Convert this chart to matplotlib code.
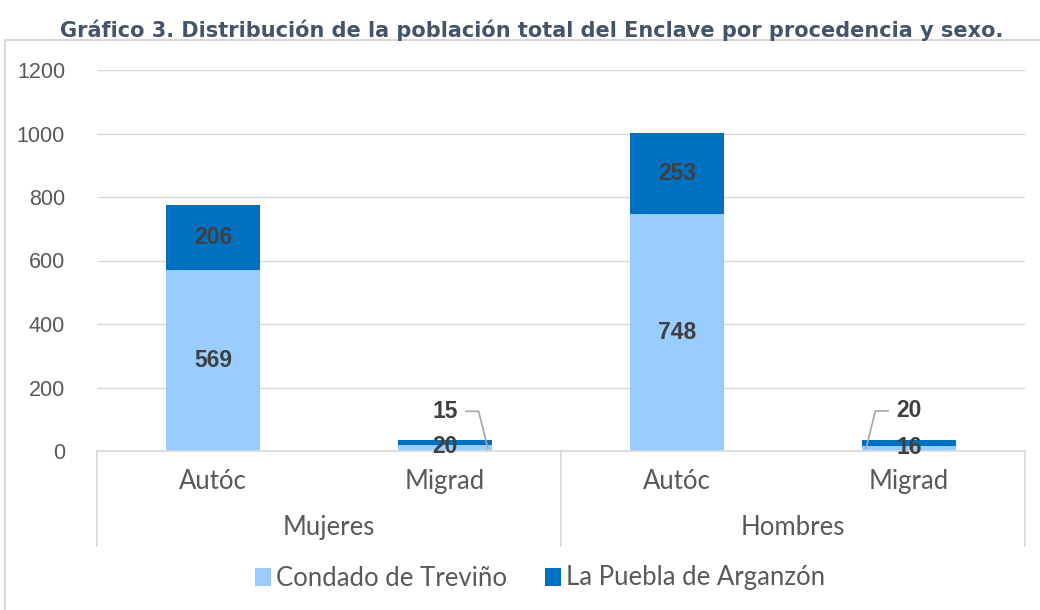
import matplotlib.pyplot as plt
import matplotlib.transforms as mtransforms
from matplotlib.patches import Rectangle
import numpy as np

# Datos
grupos = ['Mujeres', 'Hombres']
procedencia = ['Autóc', 'Migrad', 'Autóc', 'Migrad']
condado = [569, 20, 748, 16]
puebla = [206, 15, 253, 20]
series = ['Condado de Treviño', 'La Puebla de Arganzón']
yticks = [0, 200, 400, 600, 800, 1000, 1200]

C_LIGHT = '#99CCFF'
C_DARK = '#0070C0'
C_TEXT = '#595959'
C_LABEL = '#404040'
C_GRID = '#D9D9D9'

TXT_FONT = ['Lato', 'DejaVu Sans']
NUM_FONT = ['Liberation Sans', 'DejaVu Sans']

fig = plt.figure(figsize=(10.4, 6.1), dpi=100)
fig.patch.set_facecolor('white')

# marco del grafico
fig.patches.append(Rectangle((5 / 1040, -0.05), 1.1, 570 / 610 + 0.05,
                             transform=fig.transFigure, fill=False,
                             edgecolor=C_GRID, linewidth=1.5))

fig.text(532 / 1040, 1 - 30 / 610,
         'Gráfico 3. Distribución de la población total del Enclave por procedencia y sexo.',
         ha='center', va='center', fontsize=15, fontweight='bold', color='#44546A',
         family=['DejaVu Sans'])

ax = fig.add_axes([97 / 1040, 159 / 610, 928 / 1040, 381 / 610])
x = np.arange(len(procedencia))
w = 0.405

ax.bar(x, condado, w, color=C_LIGHT, label=series[0], zorder=2)
ax.bar(x, puebla, w, bottom=condado, color=C_DARK, label=series[1], zorder=2)

ax.set_xlim(-0.5, len(procedencia) - 0.5)
ax.set_ylim(0, 1200)
ax.set_yticks(yticks)
ax.set_yticklabels([str(v) for v in yticks], fontsize=15.5, color=C_TEXT, family=NUM_FONT)
ax.tick_params(axis='y', length=0, pad=23)
ax.set_xticks([])
ax.grid(axis='y', color=C_GRID, linewidth=1, zorder=0)
for s in ax.spines.values():
    s.set_visible(False)

# eje de categorias
tr = mtransforms.blended_transform_factory(ax.transData, ax.transAxes)
ax.plot([-0.5, len(procedencia) - 0.5], [0, 0], transform=tr, color=C_GRID,
        linewidth=1.2, clip_on=False, zorder=3)
for xs in [-0.5, 1.5, 3.5]:
    ax.plot([xs, xs], [0, -0.25], transform=tr, color=C_GRID, linewidth=1.2, clip_on=False)
for i, lab in enumerate(procedencia):
    ax.text(i, -0.081, lab, transform=tr, ha='center', va='center',
            fontsize=18.5, color=C_TEXT, family=TXT_FONT)
for j, g in enumerate(grupos):
    ax.text(2 * j + 0.5, -0.202, g, transform=tr, ha='center', va='center',
            fontsize=18.5, color=C_TEXT, family=TXT_FONT)

# etiquetas de datos
lab_kw = dict(ha='center', va='center', fontsize=16.5, fontweight='bold',
              color=C_LABEL, family=NUM_FONT, zorder=4)
for i in range(len(procedencia)):
    c, p = condado[i], puebla[i]
    if c + p > 200:
        ax.text(x[i], c / 2, str(c), **lab_kw)
        ax.text(x[i], c + p / 2, str(p), **lab_kw)
    else:
        ax.text(x[i], c / 2 + 4, str(c), **lab_kw)
        # etiqueta superior con linea guia
        yl = c + p + 90
        side = 1 if i == 1 else -1
        ax.text(x[i], yl, str(p), **lab_kw)
        ax.plot([x[i] + side * 0.09, x[i] + side * 0.145, x[i] + side * 0.185],
                [yl, yl, 8], color='#A6A6A6', linewidth=1.2, zorder=4)

fig.legend(loc='center', bbox_to_anchor=(540 / 1040, 1 - 578 / 610), ncol=2,
           frameon=False, handlelength=0.6, handleheight=0.7, handletextpad=0.2,
           columnspacing=1.5, prop={'family': TXT_FONT, 'size': 18.5},
           labelcolor=C_TEXT)

fig.savefig('out.png', dpi=100)
